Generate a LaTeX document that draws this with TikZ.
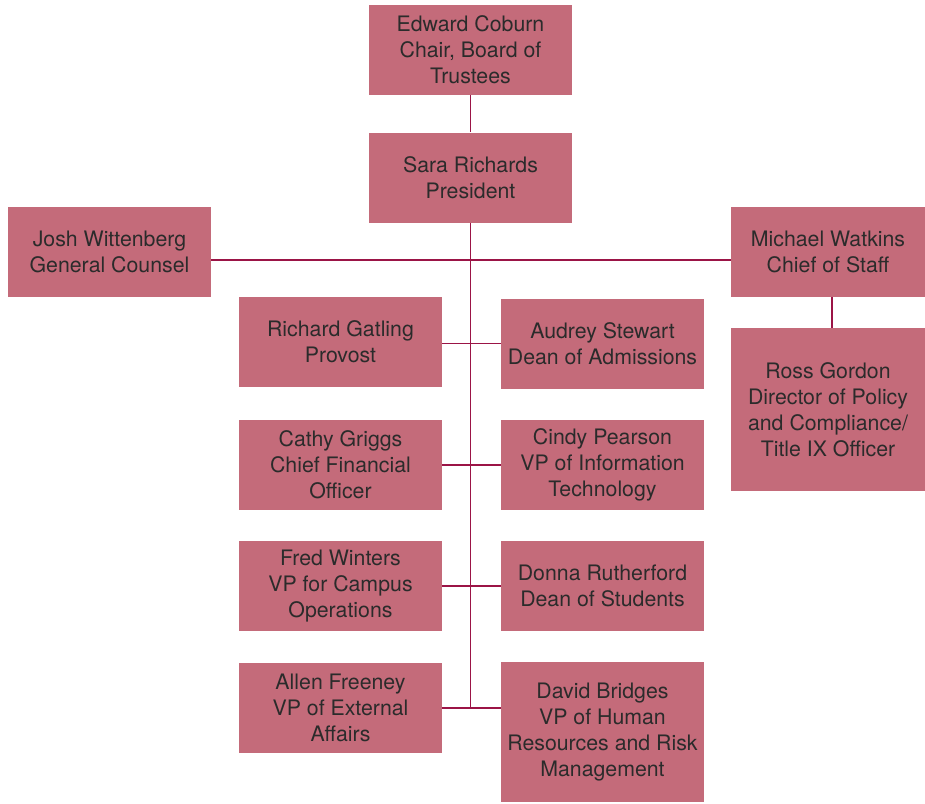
\documentclass[tikz,border=0pt]{standalone}
\usepackage{fontspec}
\setmainfont{TeX Gyre Heros}
\definecolor{boxfill}{HTML}{C46B7A}
\definecolor{linkline}{HTML}{9B1446}
\definecolor{boxtext}{HTML}{2B2B2B}
\tikzset{
  person/.style={fill=boxfill, text=boxtext, inner sep=0pt, align=center,
    minimum width=203pt, minimum height=90pt,
    font=\fontsize{21.3}{26}\selectfont},
  link/.style={draw=linkline, line width=1.4pt}
}
\begin{document}
\begin{tikzpicture}[x=1pt,y=-1pt]
    \useasboundingbox (0,0) rectangle (925,803);
    % top of the chart
    \node[person] (edward) at (470.5,50) {Edward Coburn\\Chair, Board of\\Trustees};
    \node[person] (sara) at (470.5,177.5) {Sara Richards\\President};
    \node[person] (josh) at (109.5,252) {Josh Wittenberg\\General Counsel};
    \node[person, minimum width=194pt] (michael) at (828,252) {Michael Watkins\\Chief of Staff};
    \node[person, minimum width=194pt, minimum height=163pt] (ross) at (828,409.5)
        {Ross Gordon\\Director of Policy\\and Compliance/\\Title IX Officer};
    % left column
    \node[person] (richard) at (340.5,341.5) {Richard Gatling\\Provost};
    \node[person] (cathy) at (340.5,465) {Cathy Griggs\\Chief Financial\\Officer};
    \node[person] (fred) at (340.5,586) {Fred Winters\\VP for Campus\\Operations};
    \node[person] (allen) at (340.5,708) {Allen Freeney\\VP of External\\Affairs};
    % right column
    \node[person] (audrey) at (602.5,343.5) {Audrey Stewart\\Dean of Admissions};
    \node[person] (cindy) at (602.5,465) {Cindy Pearson\\VP of Information\\Technology};
    \node[person] (donna) at (602.5,586) {Donna Rutherford\\Dean of Students};
    \node[person, minimum height=140pt] (david) at (602.5,732)
        {David Bridges\\VP of Human\\Resources and Risk\\Management};
    % connectors
    \draw[link] (edward) -- (sara);
    \draw[link] (sara.south) -- (sara.south |- allen.east);
    \draw[link] ([yshift=-8pt]josh.east) -- ([yshift=-8pt]michael.west);
    \draw[link] ([xshift=4pt]michael.south) -- ([xshift=4pt]ross.north);
    \draw[link] (richard.east |- audrey.west) -- (audrey.west);
    \draw[link] (cathy.east) -- (cindy.west);
    \draw[link] (fred.east) -- (donna.west);
    \draw[link] (allen.east) -- (allen.east -| david.west);
\end{tikzpicture}
\end{document}
